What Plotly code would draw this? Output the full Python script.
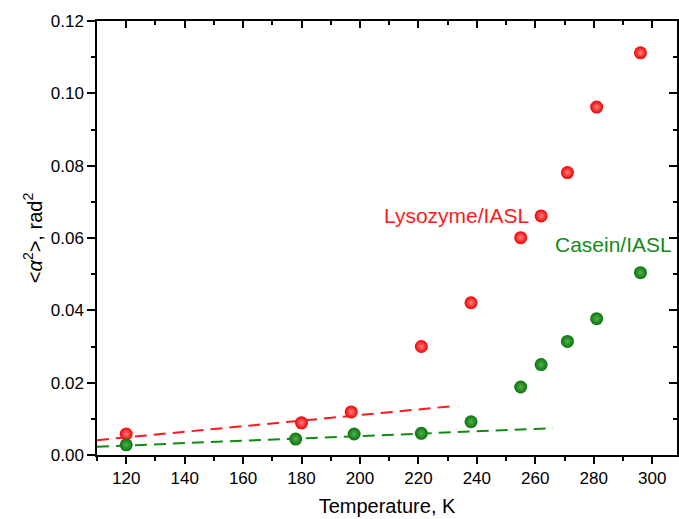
import plotly.graph_objects as go

# Temperature scans (K) and mean-square librations <alpha^2> (rad^2)
lys_T = [120, 180, 197, 221, 238, 255, 262, 271, 281, 296]
lys_a2 = [0.0058, 0.0089, 0.0119, 0.0300, 0.0421, 0.0601, 0.0661, 0.0781, 0.0962, 0.1112]

cas_T = [120, 178, 198, 221, 238, 255, 262, 271, 281, 296]
cas_a2 = [0.0028, 0.0044, 0.0058, 0.0060, 0.0092, 0.0188, 0.0250, 0.0314, 0.0377, 0.0504]

# Low-temperature linear fits (end points)
lys_fit_T = [110, 233]
lys_fit_a2 = [0.0041, 0.0136]
cas_fit_T = [110, 266]
cas_fit_a2 = [0.0023, 0.0074]

font_family = "Liberation Sans, Arial, sans-serif"

fig = go.Figure()

fig.add_trace(go.Scatter(
    x=lys_fit_T, y=lys_fit_a2, mode="lines",
    line=dict(color="#ff1a1a", width=2, dash="12px,7px"),
    showlegend=False, hoverinfo="skip"))
fig.add_trace(go.Scatter(
    x=cas_fit_T, y=cas_fit_a2, mode="lines",
    line=dict(color="#138a13", width=2, dash="12px,7px"),
    showlegend=False, hoverinfo="skip"))

fig.add_trace(go.Scatter(
    x=lys_T, y=lys_a2, mode="markers",
    marker=dict(size=13, color="#f00000",
                gradient=dict(type="radial", color="#ff8080"),
                line=dict(width=0)),
    showlegend=False))
fig.add_trace(go.Scatter(
    x=cas_T, y=cas_a2, mode="markers",
    marker=dict(size=13, color="#0b730b",
                gradient=dict(type="radial", color="#50b050"),
                line=dict(width=0)),
    showlegend=False))

# helper trace so the mirrored top/right axes are drawn
fig.add_trace(go.Scatter(x=[200], y=[0.05], xaxis="x2", yaxis="y2",
                         mode="markers", marker=dict(opacity=0),
                         showlegend=False, hoverinfo="skip"))

fig.add_annotation(x=233, y=0.0663, xref="x", yref="y", text="Lysozyme/IASL",
                   showarrow=False, xanchor="center", yanchor="middle",
                   font=dict(family=font_family, size=21, color="#ff1a1a"))
fig.add_annotation(x=307.5, y=0.0582, xref="x", yref="y", text="Casein/IASL",
                   showarrow=False, xanchor="right", yanchor="middle",
                   font=dict(family=font_family, size=21, color="#138a13"))

axis_common = dict(showgrid=False, zeroline=False, showline=True,
                   linecolor="black", linewidth=1.5, tickcolor="black",
                   tickwidth=1.5)

fig.update_layout(
    width=679, height=519,
    margin=dict(l=97, r=2, t=21, b=64),
    plot_bgcolor="white", paper_bgcolor="white",
    font=dict(family=font_family, size=17, color="black"),
    xaxis=dict(range=[110, 308.5], tickmode="linear", tick0=120, dtick=20,
               ticks="outside", ticklen=7,
               minor=dict(ticks="outside", ticklen=4, dtick=10, tick0=110,
                          tickcolor="black", tickwidth=1.5),
               title=dict(text="Temperature, K", font=dict(size=20), standoff=12),
               **axis_common),
    yaxis=dict(range=[0, 0.12], tickmode="linear", tick0=0, dtick=0.02,
               tickformat=".2f", ticks="outside", ticklen=8,
               minor=dict(ticks="outside", ticklen=4, dtick=0.01,
                          tickcolor="black", tickwidth=1.5),
               title=dict(text="&lt;<i>α</i><sup>2</sup>&gt;, rad<sup>2</sup>",
                          font=dict(size=20), standoff=3),
               **axis_common),
    xaxis2=dict(overlaying="x", matches="x", side="top", anchor="y2",
                range=[110, 308.5], tickmode="linear", tick0=120, dtick=20,
                ticks="inside", ticklen=7, showticklabels=False,
                minor=dict(ticks="inside", ticklen=4, dtick=10, tick0=110,
                           tickcolor="black", tickwidth=1.5),
                **axis_common),
    yaxis2=dict(overlaying="y", matches="y", side="right", anchor="x2",
                range=[0, 0.12], tickmode="linear", tick0=0, dtick=0.02,
                ticks="inside", ticklen=8, showticklabels=False,
                minor=dict(ticks="inside", ticklen=4, dtick=0.01,
                           tickcolor="black", tickwidth=1.5),
                **axis_common),
)

fig.write_html("out.html")
